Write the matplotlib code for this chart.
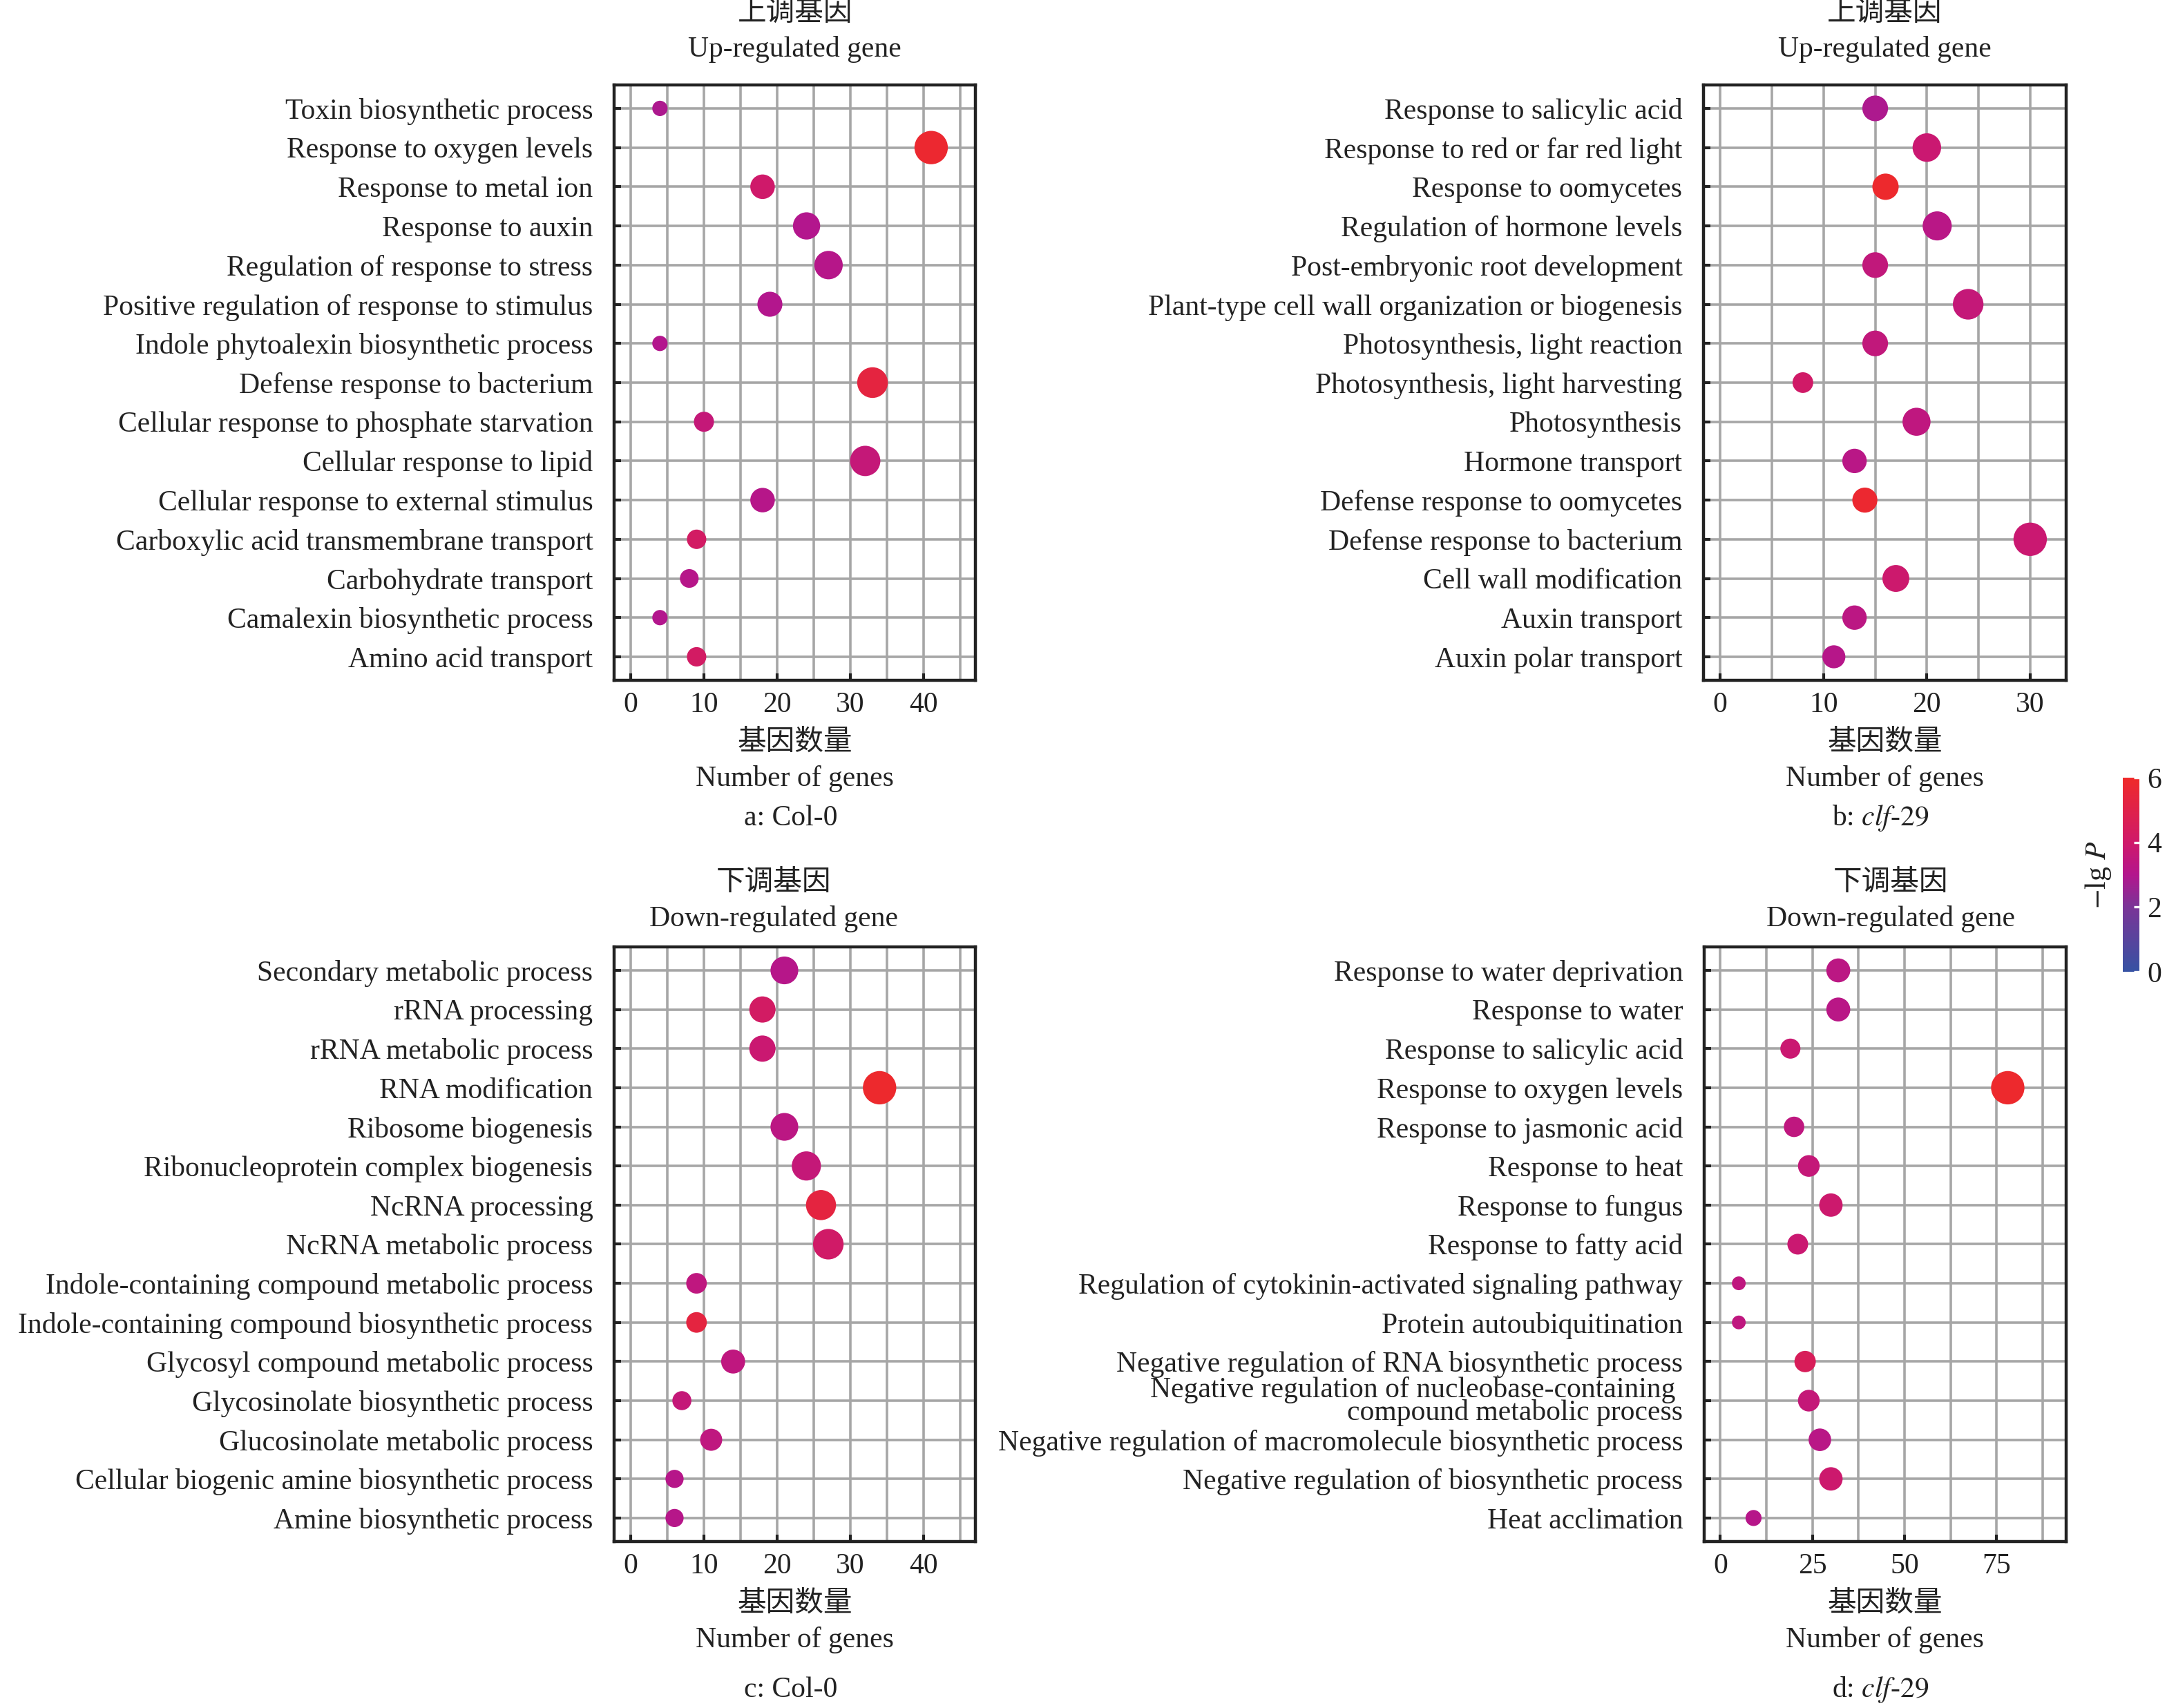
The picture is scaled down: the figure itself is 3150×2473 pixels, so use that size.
import matplotlib
matplotlib.use("Agg")
import matplotlib.pyplot as plt
import numpy as np
from matplotlib.colors import LinearSegmentedColormap, Normalize
from matplotlib.ticker import MultipleLocator

plt.rcParams['font.family'] = ['Liberation Serif', 'Noto Sans CJK SC']
plt.rcParams['mathtext.fontset'] = 'stix'

# ---- data (terms listed top to bottom) ----
terms_a = ["Toxin biosynthetic process", "Response to oxygen levels", "Response to metal ion",
           "Response to auxin", "Regulation of response to stress",
           "Positive regulation of response to stimulus", "Indole phytoalexin biosynthetic process",
           "Defense response to bacterium", "Cellular response to phosphate starvation",
           "Cellular response to lipid", "Cellular response to external stimulus",
           "Carboxylic acid transmembrane transport", "Carbohydrate transport",
           "Camalexin biosynthetic process", "Amino acid transport"]
count_a = [4, 41, 18, 24, 27, 19, 4, 33, 10, 32, 18, 9, 8, 4, 9]
lgp_a = [2.9, 5.8, 4.0, 3.0, 3.1, 3.0, 3.0, 5.3, 3.6, 3.6, 3.1, 4.2, 3.1, 3.0, 4.2]

terms_b = ["Response to salicylic acid", "Response to red or far red light",
           "Response to oomycetes", "Regulation of hormone levels",
           "Post-embryonic root development", "Plant-type cell wall organization or biogenesis",
           "Photosynthesis, light reaction", "Photosynthesis, light harvesting", "Photosynthesis",
           "Hormone transport", "Defense response to oomycetes", "Defense response to bacterium",
           "Cell wall modification", "Auxin transport", "Auxin polar transport"]
count_b = [15, 20, 16, 21, 15, 24, 15, 8, 19, 13, 14, 30, 17, 13, 11]
lgp_b = [2.9, 3.8, 5.9, 3.2, 3.5, 3.6, 3.5, 4.1, 3.4, 3.2, 5.8, 3.8, 3.9, 3.3, 3.1]

terms_c = ["Secondary metabolic process", "rRNA processing", "rRNA metabolic process",
           "RNA modification", "Ribosome biogenesis", "Ribonucleoprotein complex biogenesis",
           "NcRNA processing", "NcRNA metabolic process",
           "Indole-containing compound metabolic process",
           "Indole-containing compound biosynthetic process",
           "Glycosyl compound metabolic process", "Glycosinolate biosynthetic process",
           "Glucosinolate metabolic process", "Cellular biogenic amine biosynthetic process",
           "Amine biosynthetic process"]
count_c = [21, 18, 18, 34, 21, 24, 26, 27, 9, 9, 14, 7, 11, 6, 6]
lgp_c = [3.1, 4.2, 3.8, 5.9, 3.3, 3.6, 5.3, 4.1, 3.4, 5.3, 3.4, 3.6, 3.4, 3.1, 3.1]

terms_d = ["Response to water deprivation", "Response to water", "Response to salicylic acid",
           "Response to oxygen levels", "Response to jasmonic acid", "Response to heat",
           "Response to fungus", "Response to fatty acid",
           "Regulation of cytokinin-activated signaling pathway", "Protein autoubiquitination",
           "Negative regulation of RNA biosynthetic process",
           "Negative regulation of nucleobase-containing \ncompound metabolic process",
           "Negative regulation of macromolecule biosynthetic process",
           "Negative regulation of biosynthetic process", "Heat acclimation"]
count_d = [32, 32, 19, 78, 20, 24, 30, 21, 5, 5, 23, 24, 27, 30, 9]
lgp_d = [3.3, 3.2, 3.8, 5.9, 3.4, 3.6, 3.9, 3.8, 3.4, 3.4, 4.5, 3.6, 3.2, 3.9, 3.1]

cmap = LinearSegmentedColormap.from_list(
    "gp", [(0, '#3652a3'), (0.333, '#7a3597'), (0.5, '#b3168d'),
           (0.667, '#cf196a'), (1, '#ef2a2a')])
norm = Normalize(0, 6)
FS = 15

fig = plt.figure(figsize=(15.75, 12.365), dpi=200)

panels = [
    (terms_a, count_a, lgp_a, [0.2822, 0.6017, 0.1661, 0.3486], (-2.26, 47.05), 10, 5),
    (terms_b, count_b, lgp_b, [0.7828, 0.6017, 0.1668, 0.3486], (-1.63, 33.5), 10, 5),
    (terms_c, count_c, lgp_c, [0.2822, 0.0975, 0.1661, 0.3481], (-2.26, 47.1), 10, 5),
    (terms_d, count_d, lgp_d, [0.7831, 0.0975, 0.1665, 0.3481], (-4.44, 93.9), 25, 12.5),
]

for terms, counts, lgp, rect, xlim, major, minor in panels:
    ax = fig.add_axes(rect)
    n = len(terms)
    y = np.arange(n)[::-1]
    c = np.array(counts, dtype=float)
    diam = 3.7 + 13.7 * np.sqrt(c / c.max())
    ax.scatter(c, y, s=diam ** 2, c=lgp, cmap=cmap, norm=norm,
               edgecolors='none', zorder=3)
    ax.set_xlim(*xlim)
    ax.set_ylim(-0.6, n - 0.4)
    ax.set_yticks(y)
    ax.set_yticklabels(terms, fontsize=FS, linespacing=0.8)
    ax.xaxis.set_major_locator(MultipleLocator(major))
    ax.xaxis.set_minor_locator(MultipleLocator(minor))
    ax.grid(True, which='both', axis='x', color='#a6a6a6', linewidth=1.3, zorder=0)
    ax.grid(True, which='major', axis='y', color='#a6a6a6', linewidth=1.3, zorder=0)
    ax.set_axisbelow(True)
    ax.tick_params(axis='both', which='major', direction='in', length=3.5, width=1.5,
                   color='#222222', labelsize=FS, labelcolor='#222222')
    ax.tick_params(axis='x', which='minor', length=0)
    ax.tick_params(axis='y', pad=11)
    ax.tick_params(axis='x', pad=6)
    for sp in ax.spines.values():
        sp.set_linewidth(1.6)
        sp.set_color('#222222')

txt = dict(ha='center', va='center', fontsize=FS, color='#222222')
zh = dict(txt, fontweight='light')
# titles
fig.text(0.3653, 0.992, "上调基因", **zh)
fig.text(0.3653, 0.971, "Up-regulated gene", **txt)
fig.text(0.8662, 0.992, "上调基因", **zh)
fig.text(0.8662, 0.971, "Up-regulated gene", **txt)
fig.text(0.3557, 0.483, "下调基因", **zh)
fig.text(0.3557, 0.462, "Down-regulated gene", **txt)
fig.text(0.8690, 0.483, "下调基因", **zh)
fig.text(0.8690, 0.462, "Down-regulated gene", **txt)
# x labels and panel captions
for xc, y0, cap in [(0.3653, 0.565, "a: Col-0"), (0.8662, 0.565, r"b: $\mathit{clf}$-$\mathit{29}$"),
                    (0.3653, 0.061, "c: Col-0"), (0.8662, 0.061, r"d: $\mathit{clf}$-$\mathit{29}$")]:
    fig.text(xc, y0, "基因数量", **zh)
    fig.text(xc, y0 - 0.021, "Number of genes", **txt)
    fig.text(xc - 0.002, y0 - (0.044 if y0 > 0.5 else 0.0504), cap, **txt)

# colour bar
cax = fig.add_axes([0.9755, 0.431, 0.0078, 0.1137])
sm = plt.cm.ScalarMappable(norm=norm, cmap=cmap)
cb = fig.colorbar(sm, cax=cax, ticks=[0, 2, 4, 6])
cb.outline.set_visible(False)
cax.tick_params(direction='in', length=3, width=1.2, color='white',
                labelsize=FS, labelcolor='#222222', pad=4)
cax.set_ylabel(r"$-$lg $P$", fontsize=FS, color='#222222', labelpad=5)
cax.yaxis.set_label_position('left')

fig.savefig("out.png", dpi=200)
